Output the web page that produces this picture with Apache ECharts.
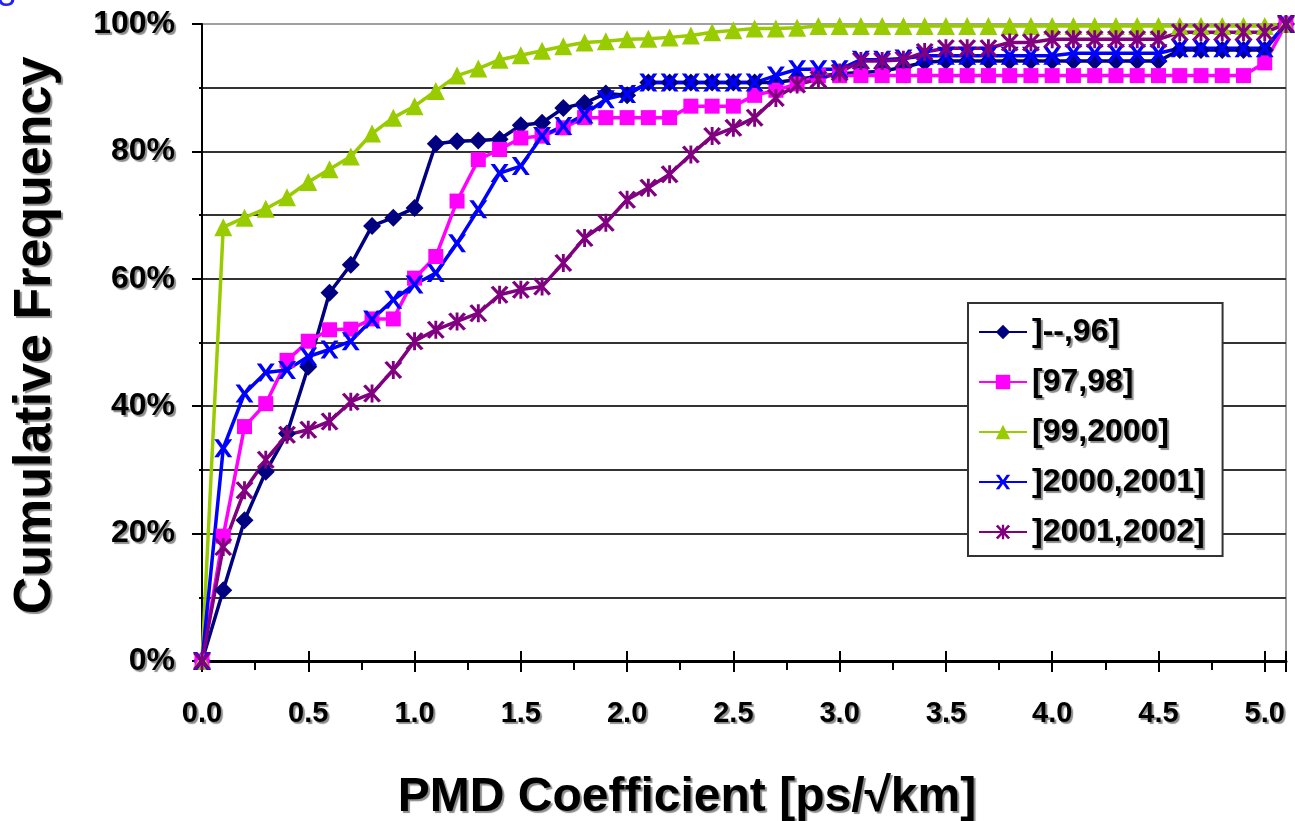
<!DOCTYPE html>
<html>
<head>
<meta charset="utf-8">
<script src="https://cdn.jsdelivr.net/npm/echarts@6/dist/echarts.min.js"></script>
<style>
html, body { margin: 0; padding: 0; background: #fff; }
#echart { width: 1295px; height: 821px; }
</style>
</head>
<body>
<div id="echart"></div>
<script>
// PMD coefficient [ps/sqrt(km)]
var pmdValues = [0, 0.1, 0.2, 0.3, 0.4, 0.5, 0.6, 0.7, 0.8, 0.9,
    1.0, 1.1, 1.2, 1.3, 1.4, 1.5, 1.6, 1.7, 1.8, 1.9,
    2.0, 2.1, 2.2, 2.3, 2.4, 2.5, 2.6, 2.7, 2.8, 2.9,
    3.0, 3.1, 3.2, 3.3, 3.4, 3.5, 3.6, 3.7, 3.8, 3.9,
    4.0, 4.1, 4.2, 4.3, 4.4, 4.5, 4.6, 4.7, 4.8, 4.9,
    5.0, 5.1];

var seriesNames = [']--,96]', '[97,98]', '[99,2000]', ']2000,2001]', ']2001,2002]'];

// cumulative frequency in %
var upTo96 = [0, 11.1, 22.1, 29.7, 35.7, 46.2, 57.8, 62.2, 68.3, 69.6,
    71.1, 81.2, 81.6, 81.7, 81.9, 84.1, 84.5, 86.8, 87.6, 89.1,
    88.8, 90.8, 90.8, 90.8, 90.8, 90.8, 90.8, 90.8, 91.3, 91.8,
    92.2, 92.4, 92.6, 93.2, 94.0, 94.2, 94.2, 94.2, 94.2, 94.2,
    94.2, 94.2, 94.2, 94.2, 94.2, 94.2, 95.9, 95.9, 95.9, 95.9,
    95.9, 100];
var y9798 = [0, 19.6, 36.8, 40.4, 47.2, 50.2, 52.0, 52.1, 53.7, 53.7,
    60.1, 63.5, 72.2, 78.7, 80.3, 82.1, 82.4, 83.7, 85.3, 85.3,
    85.3, 85.3, 85.3, 87.1, 87.1, 87.1, 88.8, 89.6, 90.6, 91.9,
    91.9, 91.9, 91.9, 91.9, 91.9, 91.9, 91.9, 91.9, 91.9, 91.9,
    91.9, 91.9, 91.9, 91.9, 91.9, 91.9, 91.9, 91.9, 91.9, 91.9,
    93.9, 100];
var y992000 = [0, 68.1, 69.6, 71.0, 72.8, 75.2, 77.2, 79.2, 82.8, 85.3,
    87.1, 89.5, 91.9, 93.0, 94.4, 95.1, 95.8, 96.5, 97.1, 97.3,
    97.6, 97.7, 97.9, 98.2, 98.7, 99.0, 99.3, 99.3, 99.4, 99.7,
    99.7, 99.7, 99.7, 99.7, 99.7, 99.7, 99.7, 99.7, 99.7, 99.7,
    99.7, 99.7, 99.7, 99.7, 99.7, 99.7, 99.7, 99.7, 99.7, 99.7,
    99.7, 100];
var y20002001 = [0, 33.4, 42.0, 45.3, 45.7, 47.8, 48.9, 50.2, 53.6, 56.7,
    59.1, 60.9, 65.6, 70.9, 76.6, 77.7, 82.4, 84.0, 85.8, 88.2,
    89.0, 90.8, 90.8, 90.8, 90.8, 90.8, 90.8, 91.9, 92.9, 92.9,
    92.9, 94.4, 94.4, 94.6, 95.0, 95.0, 95.0, 95.0, 95.0, 95.0,
    95.0, 95.4, 95.4, 95.4, 95.4, 95.4, 96.2, 96.2, 96.2, 96.2,
    96.2, 100];
var y20012002 = [0, 17.9, 26.8, 31.6, 35.5, 36.3, 37.6, 40.7, 42.0, 45.7,
    50.2, 52.0, 53.3, 54.6, 57.5, 58.3, 58.8, 62.5, 66.4, 68.8,
    72.4, 74.3, 76.4, 79.5, 82.4, 83.7, 85.3, 88.4, 90.5, 91.3,
    92.4, 94.2, 94.2, 94.4, 95.6, 96.2, 96.2, 96.2, 97.1, 97.1,
    97.6, 97.6, 97.6, 97.6, 97.6, 97.6, 98.7, 98.7, 98.7, 98.7,
    98.7, 100];

var yTicks = [0, 20, 40, 60, 80, 100];

var fontName = '"Liberation Sans", Arial, sans-serif';
var shadow = {
    textShadowColor: '#8c8c8c',
    textShadowOffsetX: 2,
    textShadowOffsetY: 2,
    textShadowBlur: 1
};

var xMark = 'path://M0,0L2.4,0L5,3.6L7.6,0L10,0L6.4,5L10,10L7.6,10L5,6.4L2.4,10L0,10L3.6,5Z';
var starMark = 'path://M0,1L1.5,0L5,3.8L8.5,0L10,1L6.2,5L10,9L8.5,10L5,6.2L1.5,10L0,9L3.8,5Z M4.2,0L5.8,0L5.8,10L4.2,10Z';

function pairs(ys) {
    var out = [];
    for (var i = 0; i < pmdValues.length; i++) {
        out.push([pmdValues[i], ys[i]]);
    }
    return out;
}

function lineSeries(name, ys, color, symbol, size) {
    return {
        name: name,
        type: 'line',
        data: pairs(ys),
        symbol: symbol,
        symbolSize: size,
        showAllSymbol: true,
        lineStyle: { color: color, width: 3.5 },
        itemStyle: { color: color },
        emphasis: { disabled: true },
        animation: false
    };
}

var myChart = echarts.init(document.getElementById('echart'));

var option = {
    backgroundColor: '#fff',
    textStyle: { fontFamily: fontName },
    grid: {
        left: 202,
        right: 9,
        top: 24,
        bottom: 160,
        outerBoundsMode: 'none',
        containLabel: false,
        show: true,
        backgroundColor: '#fff',
        borderColor: '#a0a0a0',
        borderWidth: 2
    },
    legend: {
        orient: 'vertical',
        left: 968,
        top: 303,
        padding: [13, 18, 8, 10],
        itemGap: 18,
        itemWidth: 48,
        itemHeight: 18,
        backgroundColor: '#fff',
        borderColor: '#333',
        borderWidth: 2,
        borderRadius: 0,
        data: seriesNames,
        textStyle: Object.assign({
            fontFamily: fontName,
            fontWeight: 'bold',
            fontSize: 32,
            lineHeight: 31,
            color: '#000'
        }, shadow)
    },
    graphic: [{
        type: 'text',
        left: -3,
        top: -20,
        style: { text: '3', fill: '#2020ff', font: '34px ' + fontName }
    }],
    xAxis: [{
        type: 'value',
        min: 0,
        max: 5.1,
        interval: 0.5,
        name: 'PMD Coefficient [ps/√km]',
        nameLocation: 'middle',
        nameGap: 113,
        nameTextStyle: Object.assign({
            fontFamily: fontName,
            fontWeight: 'bold',
            fontSize: 48,
            color: '#000',
            padding: [0, 114, 0, 0]
        }, shadow),
        axisLine: { lineStyle: { color: '#000', width: 3 } },
        axisTick: { length: 11, lineStyle: { color: '#000', width: 2 } },
        minorTick: { show: true, splitNumber: 2, length: 9, lineStyle: { color: '#000', width: 2 } },
        splitLine: { show: false },
        axisLabel: Object.assign({
            margin: 38,
            showMaxLabel: false,
            fontFamily: fontName,
            fontWeight: 'bold',
            fontSize: 29,
            color: '#000',
            formatter: function (v) { return v.toFixed(1); }
        }, shadow)
    }, {
        type: 'value',
        min: 0,
        max: 5.1,
        interval: 0.5,
        position: 'bottom',
        axisLine: { show: false },
        axisTick: { inside: true, length: 10, lineStyle: { color: '#000', width: 2 } },
        axisLabel: { show: false },
        splitLine: { show: false }
    }],
    yAxis: {
        type: 'value',
        min: 0,
        max: 100,
        interval: 20,
        name: 'Cumulative Frequency',
        nameLocation: 'middle',
        nameGap: 140,
        nameTextStyle: Object.assign({
            fontFamily: fontName,
            fontWeight: 'bold',
            fontSize: 52,
            color: '#000',
            padding: [0, 0, 0, 14]
        }, shadow),
        axisLine: { show: true, lineStyle: { color: '#000', width: 2 } },
        axisTick: { show: true, length: 10, lineStyle: { color: '#000', width: 2 } },
        minorTick: { show: true, splitNumber: 2, length: 3, lineStyle: { color: '#000', width: 2 } },
        splitLine: { lineStyle: { color: ['#333', '#333', '#333', '#333', '#333', '#a0a0a0'], width: 2 } },
        minorSplitLine: { show: true, lineStyle: { color: '#333', width: 2 } },
        axisLabel: Object.assign({
            margin: 27,
            fontFamily: fontName,
            fontWeight: 'bold',
            fontSize: 32,
            color: '#000',
            formatter: function (v) { return yTicks.indexOf(v) >= 0 ? v + '%' : ''; }
        }, shadow)
    },
    series: [
        lineSeries(seriesNames[0], upTo96, '#000080', 'diamond', 18),
        lineSeries(seriesNames[1], y9798, '#ff00ff', 'rect', 15),
        lineSeries(seriesNames[2], y992000, '#99cc00', 'triangle', 18),
        lineSeries(seriesNames[3], y20002001, '#0000ff', xMark, 18),
        lineSeries(seriesNames[4], y20012002, '#800080', starMark, 18)
    ]
};

myChart.setOption(option);
</script>
</body>
</html>
